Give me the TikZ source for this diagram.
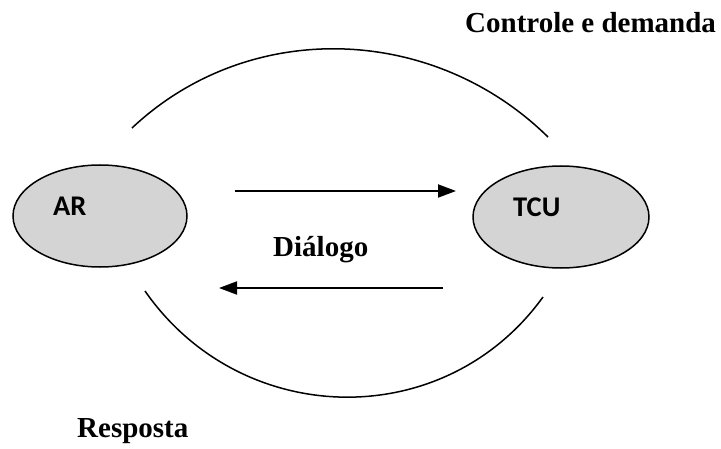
\documentclass[tikz,border=0pt]{standalone}
\usepackage{fontspec}
\setmainfont{Liberation Serif}
\newfontfamily\calfont{Carlito}
\usetikzlibrary{shapes.geometric,arrows.meta}
\definecolor{ellfill}{RGB}{212,212,212}
\tikzset{
  x=1pt, y=1pt,
  ellbox/.style={draw=black, line width=1.5pt, fill=ellfill, ellipse, inner sep=0pt},
  elltext/.style={anchor=base west, inner sep=0pt, font=\calfont\bfseries\fontsize{28.5}{31}\selectfont},
  lbl/.style={anchor=base west, inner sep=0pt, font=\bfseries\fontsize{29}{32}\selectfont},
  arr/.style={line width=2pt, -{Triangle[length=18pt,width=13pt]}},
  arcline/.style={line width=1.5pt}
}
\begin{document}
\begin{tikzpicture}
\useasboundingbox (0,0) rectangle (721,448);
% ellipses
\node[ellbox, minimum width=174pt, minimum height=102pt] (ar) at (100,232) {};
\node[ellbox, minimum width=176pt, minimum height=102pt] (tcu) at (561,231) {};
\node[elltext] (artext) at (53,232) {AR};
\node[elltext] (tcutext) at (513,231) {TCU};
% labels
\node[lbl] (controle) at (465,415) {Controle e demanda};
\node[lbl] (dialogo) at (273,191) {Diálogo};
\node[lbl] (resposta) at (77,11) {Resposta};
% arrows
\coordinate (a1s) at (235,257);
\coordinate (a1e) at (456,257);
\coordinate (a2s) at (443,160);
\coordinate (a2e) at (219,160);
\draw[arr] (a1s) -- (a1e);
\draw[arr] (a2s) -- (a2e);
% arcs
\coordinate (t1) at (132,320);
\coordinate (t2) at (548,311);
\coordinate (b1) at (145,157);
\coordinate (b2) at (543,151);
\draw[arcline] (t1) .. controls (249,430) and (433,424) .. (t2);
\draw[arcline] (b1) .. controls (241,19) and (444,14) .. (b2);
\end{tikzpicture}
\end{document}
